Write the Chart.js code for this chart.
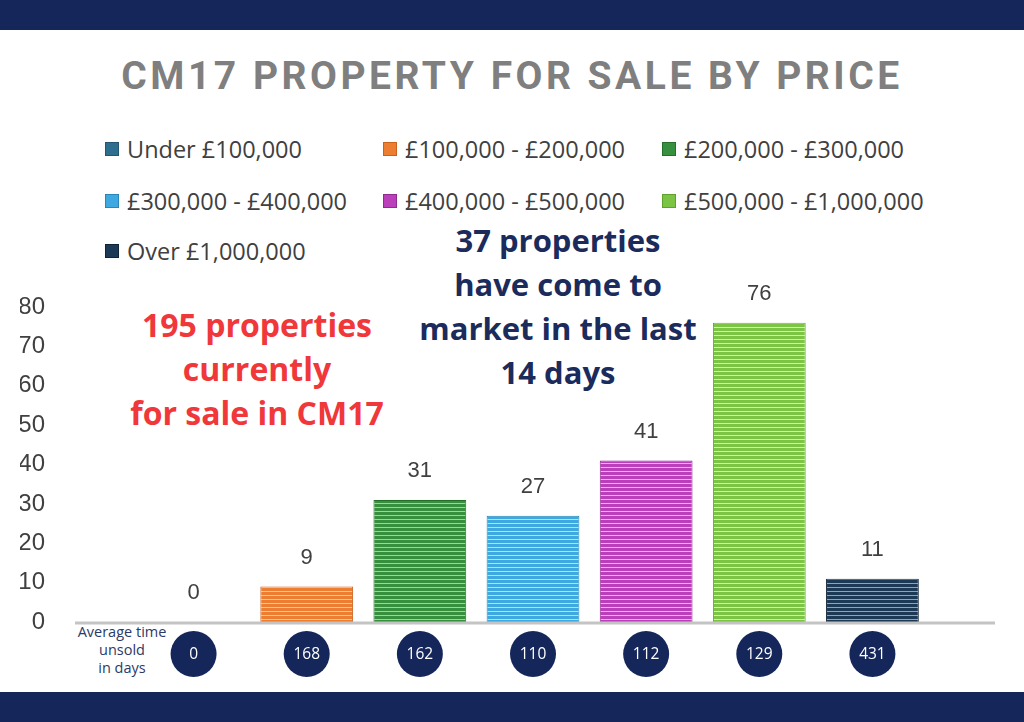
<!DOCTYPE html>
<html>
<head>
<meta charset="utf-8">
<script src="https://cdn.jsdelivr.net/npm/chart.js@4.4.1/dist/chart.umd.min.js"></script>
<style>
  body { margin: 0; width: 1024px; height: 722px; overflow: hidden; background: #fff; position: relative; font-family: "Open Sans", sans-serif; }
  .band { position: absolute; left: 0; width: 1024px; height: 30px; background: #15265a; }
  #title { position: absolute; top: 53px; left: 0; width: 1024px; text-align: center; font: 700 39px Roboto, sans-serif; color: #7f7f7f; letter-spacing: 3.5px; }
  .leg { position: absolute; height: 30px; display: flex; align-items: center; font-size: 23.5px; color: #404040; white-space: nowrap; }
  .leg span.box { width: 14px; height: 14px; margin-right: 8px; box-sizing: border-box; }
  .note { position: absolute; width: 420px; text-align: center; font-weight: 700; line-height: 44px; }
  #avg { position: absolute; left: 62px; top: 623px; width: 120px; text-align: center; font-size: 14.5px; line-height: 18px; color: #2b3a67; }
  #c { position: absolute; left: 0; top: 0; }
</style>
</head>
<body>
<div class="band" style="top:0"></div>
<div class="band" style="top:692px"></div>
<div id="title">CM17 PROPERTY FOR SALE BY PRICE</div>
<div id="legend"></div>
<div class="note" style="left:47px;top:303px;color:#f0373a;font-size:32px">195 properties<br>currently<br>for sale in CM17</div>
<div class="note" style="left:348px;top:218px;color:#1a2b5c;font-size:31px">37 properties<br>have come to<br>market in the last<br>14 days</div>
<div id="avg">Average time<br>unsold<br>in days</div>
<canvas id="c" width="1024" height="722"></canvas>
<script>
// price bands and counts
const categories = ["Under £100,000", "£100,000 - £200,000", "£200,000 - £300,000",
  "£300,000 - £400,000", "£400,000 - £500,000", "£500,000 - £1,000,000", "Over £1,000,000"];
const counts = [0, 9, 31, 27, 41, 76, 11];
const avgDaysUnsold = [0, 168, 162, 110, 112, 129, 431];
const yTicks = [0, 10, 20, 30, 40, 50, 60, 70, 80];

const colors = ["#2e6e8e", "#ed7d31", "#36903d", "#3ea8e0", "#bb3fbb", "#7cc444", "#1c3a55"];
const stripeColors = ["#8fbad0", "#f8c3a0", "#9fd3a4", "#b6def5", "#eeb2ee", "#d2efbd", "#8aa6bf"];
const edgeColors = ["#235570", "#c9621d", "#25702b", "#2a86b8", "#8f2a8f", "#5fa12d", "#0f2438"];

// striped fill like the original
function stripes(base, light) {
  const p = document.createElement("canvas");
  p.width = 8; p.height = 4;
  const g = p.getContext("2d");
  g.fillStyle = base; g.fillRect(0, 0, 8, 4);
  g.fillStyle = light; g.fillRect(0, 3, 8, 1);
  return document.getElementById("c").getContext("2d").createPattern(p, "repeat");
}

// legend, three per row
const legend = document.getElementById("legend");
const colX = [105, 383, 662], rowY = [134, 186, 236];
categories.forEach((name, i) => {
  const d = document.createElement("div");
  d.className = "leg";
  d.style.left = colX[i % 3] + "px";
  d.style.top = rowY[Math.floor(i / 3)] + "px";
  d.innerHTML = '<span class="box" style="background:' + colors[i] + ';border:1px solid ' + edgeColors[i] + '"></span>' + name;
  legend.appendChild(d);
});

const extras = {
  id: "extras",
  afterDatasetsDraw(chart) {
    const { ctx, scales: { x, y }, chartArea } = chart;
    const base = y.getPixelForValue(0);
    ctx.save();
    // baseline
    ctx.strokeStyle = "#c4c4c4";
    ctx.lineWidth = 3;
    ctx.beginPath();
    ctx.moveTo(chartArea.left - 62, base + 1);
    ctx.lineTo(chartArea.right + 66, base + 1);
    ctx.stroke();
    // value labels
    const meta = chart.getDatasetMeta(0);
    ctx.fillStyle = "#404040";
    ctx.font = "22px 'Liberation Sans', Arial, sans-serif";
    ctx.textAlign = "center";
    ctx.textBaseline = "middle";
    meta.data.forEach((bar, i) => {
      ctx.fillText(String(counts[i]), bar.x, bar.y - 29);
    });
    // days unsold circles
    avgDaysUnsold.forEach((d, i) => {
      const cx = x.getPixelForValue(i);
      const cy = base + 32;
      ctx.fillStyle = "#15265a";
      ctx.beginPath();
      ctx.arc(cx, cy, 23, 0, Math.PI * 2);
      ctx.fill();
      ctx.fillStyle = "#ffffff";
      ctx.font = "15.5px 'Open Sans', sans-serif";
      ctx.fillText(String(d), cx, cy + 1);
    });
    ctx.restore();
  }
};

new Chart(document.getElementById("c"), {
  type: "bar",
  data: {
    labels: categories,
    datasets: [{
      data: counts,
      backgroundColor: colors.map((c, i) => stripes(c, stripeColors[i])),
      borderColor: edgeColors,
      borderWidth: 1,
      categoryPercentage: 1,
      barPercentage: 0.82
    }]
  },
  options: {
    responsive: false,
    animation: false,
    layout: { padding: { left: 20, right: 95, top: 307, bottom: 100 } },
    plugins: { legend: { display: false }, tooltip: { enabled: false } },
    scales: {
      x: { display: false },
      y: {
        min: 0, max: 80,
        afterBuildTicks: (s) => { s.ticks = yTicks.map(v => ({ value: v })); },
        // wide gap between labels and bars; keep the gap from eating the plot height
        afterFit: (s) => { s.width = 117; s.paddingTop = 12; s.paddingBottom = 12; },
        grid: { display: false, drawTicks: false },
        border: { display: false },
        ticks: { padding: 92, color: "#404040", font: { size: 24, family: "'Liberation Sans', Arial, sans-serif" } }
      }
    }
  },
  plugins: [extras]
});
</script>
</body>
</html>
